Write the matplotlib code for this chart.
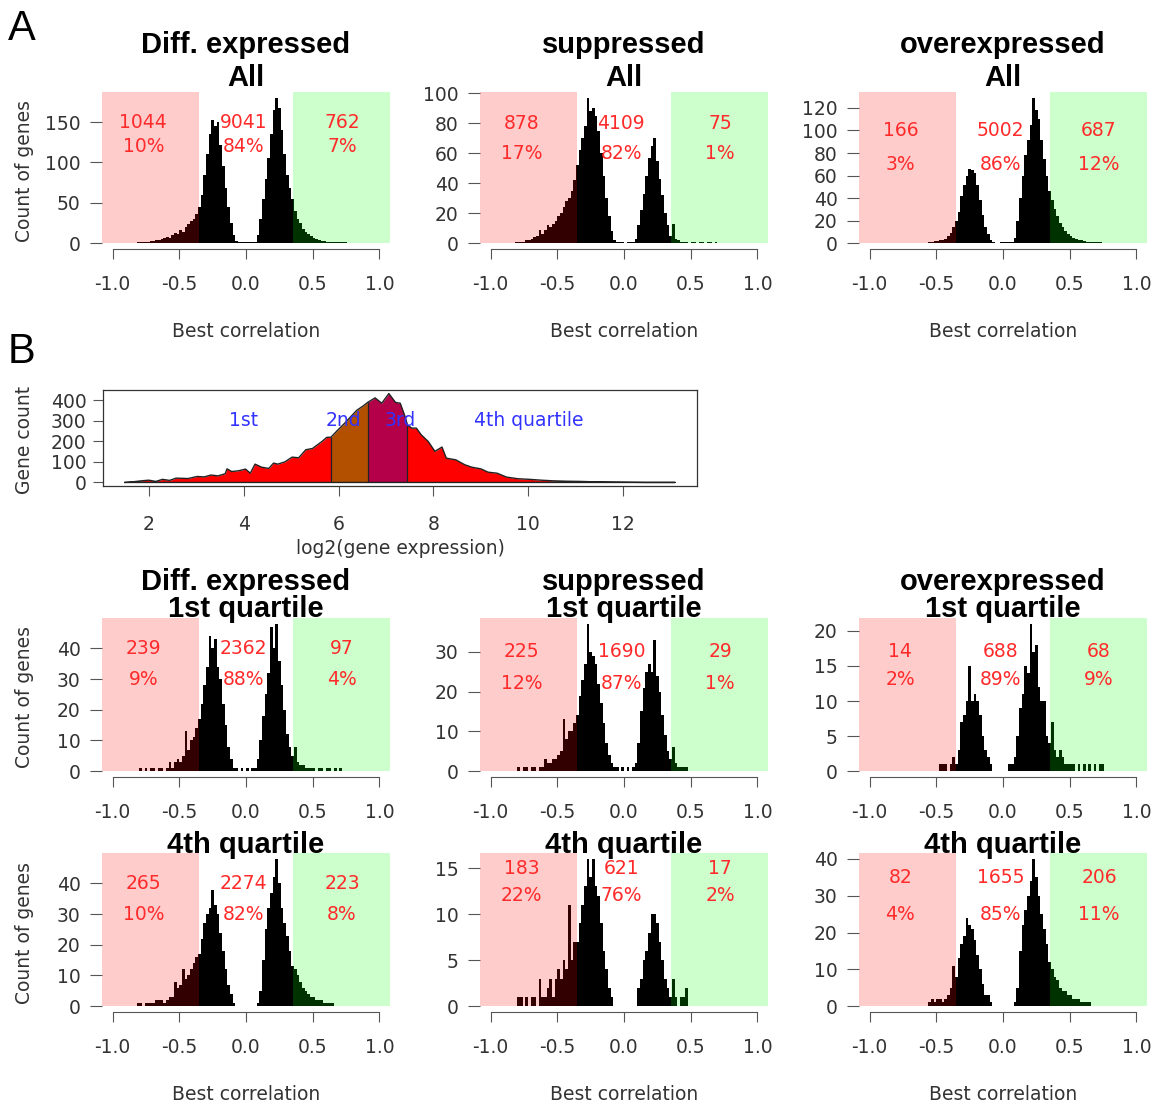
import numpy as np
import matplotlib
matplotlib.use('Agg')
import matplotlib.pyplot as plt
from matplotlib.patches import Rectangle

# ---------------- data ----------------
# histogram bins of best correlation, 0.02 wide, from -0.86 to 0.80
bin_edges = np.round(np.arange(-0.86, 0.801, 0.02), 2)
bin_centers = bin_edges[:-1] + 0.01

# counts per bin (row A: all genes)
all_diff = [0, 0, 1, 1, 2, 2, 2, 3, 3, 4,
            4, 5, 6, 8, 7, 10, 12, 11, 16, 14,
            20, 24, 27, 30, 36, 45, 60, 85, 110, 135,
            152, 145, 150, 122, 95, 68, 45, 25, 10, 3,
            1, 1, 1, 1, 1, 1, 2, 10, 30, 55,
            80, 105, 135, 165, 180, 168, 140, 110, 85, 68,
            55, 40, 30, 25, 18, 14, 11, 9, 7, 5,
            4, 3, 3, 2, 2, 2, 1, 1, 1, 1,
            1, 0, 0]
all_supp = [0, 0, 1, 1, 1, 1, 2, 2, 3, 4,
            5, 9, 6, 9, 12, 11, 13, 15, 18, 20,
            24, 28, 30, 35, 42, 52, 62, 70, 78, 97,
            88, 90, 85, 75, 60, 45, 30, 18, 8, 2,
            1, 1, 1, 0, 1, 1, 1, 3, 12, 22,
            33, 45, 57, 65, 70, 55, 43, 32, 20, 12,
            5, 13, 3, 2, 1, 1, 1, 0, 1, 1,
            0, 1, 1, 0, 1, 1, 0, 1, 0, 0,
            0, 0, 0]
all_over = [0, 0, 0, 0, 0, 0, 0, 0, 0, 0,
            0, 0, 0, 0, 0, 1, 1, 2, 2, 3,
            3, 4, 6, 9, 14, 20, 28, 42, 52, 60,
            66, 65, 62, 52, 38, 25, 14, 8, 3, 1,
            0, 0, 1, 1, 1, 1, 1, 5, 20, 40,
            60, 78, 92, 105, 129, 118, 110, 92, 75, 60,
            46, 38, 30, 24, 18, 14, 11, 8, 6, 5,
            4, 3, 3, 2, 1, 1, 1, 1, 1, 1,
            0, 0, 0]

# 1st quartile of expression
q1_diff = [0, 0, 0, 1, 0, 1, 0, 1, 1, 0,
           1, 1, 0, 1, 3, 1, 3, 4, 3, 5,
           13, 7, 10, 11, 14, 17, 22, 28, 34, 44,
           40, 43, 34, 30, 22, 15, 8, 4, 1, 1,
           0, 1, 0, 1, 0, 1, 1, 4, 10, 18,
           25, 32, 47, 40, 48, 36, 28, 20, 12, 8,
           5, 8, 3, 2, 2, 1, 1, 1, 1, 0,
           1, 1, 0, 1, 1, 0, 1, 0, 1, 0,
           0, 0, 0]
q1_supp = [0, 0, 0, 1, 0, 1, 1, 0, 1, 1,
           0, 1, 1, 3, 2, 2, 3, 3, 4, 5,
           13, 8, 10, 10, 12, 14, 19, 23, 27, 37,
           30, 29, 27, 22, 17, 12, 7, 4, 2, 1,
           1, 0, 1, 0, 1, 0, 1, 2, 7, 15,
           21, 25, 27, 25, 33, 24, 20, 14, 9, 5,
           3, 6, 2, 1, 1, 1, 1, 0, 0, 0,
           0, 0, 0, 0, 0, 0, 0, 0, 0, 0,
           0, 0, 0]
q1_over = [0, 0, 0, 0, 0, 0, 0, 0, 0, 0,
           0, 0, 0, 0, 0, 0, 0, 0, 0, 1,
           1, 1, 0, 1, 2, 1, 3, 7, 8, 10,
           15, 10, 11, 10, 8, 5, 3, 2, 1, 0,
           0, 0, 0, 0, 0, 1, 1, 2, 5, 9,
           11, 15, 14, 21, 17, 18, 12, 10, 10, 5,
           4, 7, 3, 2, 3, 2, 1, 1, 1, 1,
           0, 1, 0, 1, 0, 1, 0, 1, 0, 1,
           1, 0, 0]

# 4th quartile of expression
q4_diff = [0, 0, 1, 1, 0, 1, 1, 1, 1, 2,
           2, 2, 1, 2, 3, 3, 8, 6, 7, 12,
           9, 10, 12, 14, 16, 17, 22, 27, 30, 32,
           38, 33, 30, 24, 18, 12, 7, 4, 1, 0,
           0, 0, 0, 0, 0, 0, 0, 1, 5, 15,
           25, 32, 37, 42, 48, 40, 32, 27, 23, 18,
           13, 12, 10, 8, 6, 5, 4, 3, 3, 2,
           2, 2, 1, 1, 1, 1, 0, 0, 0, 0,
           0, 0, 0]
q4_supp = [0, 0, 0, 1, 1, 0, 1, 0, 1, 1,
           0, 3, 1, 1, 2, 3, 1, 3, 4, 3,
           5, 4, 11, 5, 7, 7, 9, 11, 13, 16,
           14, 16, 13, 12, 9, 6, 4, 2, 1, 0,
           0, 0, 0, 0, 0, 0, 0, 0, 2, 3,
           5, 6, 8, 10, 10, 9, 7, 5, 3, 2,
           1, 3, 1, 0, 1, 1, 2, 0, 0, 0,
           0, 0, 0, 0, 0, 0, 0, 0, 0, 0,
           0, 0, 0]
q4_over = [0, 0, 0, 0, 0, 0, 0, 0, 0, 0,
           0, 0, 0, 0, 0, 1, 2, 1, 2, 2,
           1, 2, 3, 5, 11, 8, 13, 17, 19, 24,
           22, 21, 18, 14, 10, 6, 3, 3, 1, 0,
           0, 0, 0, 0, 0, 0, 0, 1, 5, 15,
           22, 26, 30, 34, 40, 35, 30, 25, 21, 17,
           12, 10, 8, 7, 5, 4, 4, 3, 3, 2,
           2, 2, 1, 1, 1, 1, 0, 0, 0, 0,
           0, 0, 0]

# gene numbers / percentages in the (neg, middle, pos) regions
n_all = [[1044, 9041, 762], [878, 4109, 75], [166, 5002, 687]]
pct_all = [[10, 84, 7], [17, 82, 1], [3, 86, 12]]
n_q1 = [[239, 2362, 97], [225, 1690, 29], [14, 688, 68]]
pct_q1 = [[9, 88, 4], [12, 87, 1], [2, 89, 9]]
n_q4 = [[265, 2274, 223], [183, 621, 17], [82, 1655, 206]]
pct_q4 = [[10, 82, 8], [22, 76, 2], [4, 85, 11]]

# y (data units) where number / percent texts sit
y_all = [(150, 120), (80, 60), (100, 70)]
y_q1 = [(40, 30), (30, 22), (17, 13)]
y_q4 = [(40, 30), (15, 12), (35, 25)]
ystep_all = [50, 20, 20]
ystep_q1 = [10, 10, 5]
ystep_q4 = [10, 5, 10]

col_titles = ['Diff. expressed', 'suppressed', 'overexpressed']
threshold = 0.35

# panel B: expression distribution
expr_x = [1.50, 1.66, 1.85, 2.00, 2.15, 2.29, 2.44, 2.58, 2.83, 3.02,
          3.17, 3.31, 3.46, 3.61, 3.65, 3.75, 3.90, 4.04, 4.14, 4.24,
          4.38, 4.53, 4.63, 4.72, 4.87, 5.02, 5.16, 5.31, 5.45, 5.65,
          5.75, 5.84, 5.99, 6.13, 6.23, 6.38, 6.52, 6.62, 6.77, 6.91,
          7.06, 7.20, 7.30, 7.40, 7.45, 7.54, 7.64, 7.74, 7.89, 8.03,
          8.18, 8.27, 8.47, 8.66, 8.81, 9.00, 9.15, 9.34, 9.54, 9.78,
          10.03, 10.27, 10.51, 10.80, 11.10, 11.39, 11.68, 12.46, 13.09]
expr_y = [0, 3, 8, 11, 5, 15, 10, 21, 19, 29,
          27, 36, 32, 42, 66, 53, 57, 65, 45, 89,
          74, 68, 94, 89, 100, 123, 120, 159, 165, 199,
          219, 220, 256, 288, 313, 350, 372, 390, 411, 385,
          432, 389, 385, 321, 280, 264, 264, 232, 199, 151,
          172, 118, 110, 86, 74, 66, 50, 45, 26, 18,
          15, 11, 8, 6, 5, 3, 2, 0, 0]
quartile_breaks = [5.85, 6.63, 7.45]
quartile_colors = ['#FF0000', '#B35000', '#B30048', '#FF0000']
quartile_names = ['1st', '2nd', '3rd', '4th quartile']
quartile_label_x = [4.0, 6.1, 7.3, 10.0]

# ---------------- figure ----------------
W, H = 1154, 1104
fig = plt.figure(figsize=(W / 100, H / 100), dpi=100)
GREY = '#333333'


def px_axes(left, top, right, bottom):
    return fig.add_axes([left / W, 1 - bottom / H, (right - left) / W, (bottom - top) / H])


def ftext(x, y, s, **kw):
    fig.text(x / W, 1 - y / H, s, **kw)


col_left = [102, 480, 859]
col_w = 288
rows = [(92, 249), (618, 777), (853, 1012)]
row_data = [
    ([all_diff, all_supp, all_over], n_all, pct_all, y_all, ystep_all),
    ([q1_diff, q1_supp, q1_over], n_q1, pct_q1, y_q1, ystep_q1),
    ([q4_diff, q4_supp, q4_over], n_q4, pct_q4, y_q4, ystep_q4),
]
text_x = [-0.77, -0.02, 0.72]

for r, (top_px, bot_px) in enumerate(rows):
    hists, nums, pcts, ys, steps = row_data[r]
    for c in range(3):
        ax = px_axes(col_left[c], top_px, col_left[c] + col_w, bot_px)
        counts = np.array(hists[c])
        m = counts.max()
        ytop = m * 1.04
        ax.bar(bin_centers, counts, width=0.02, color='black', linewidth=0)
        ax.add_patch(Rectangle((-1.08, 0), 1.08 - threshold, ytop, color='red', alpha=0.2, lw=0))
        ax.add_patch(Rectangle((threshold, 0), 1.08 - threshold, ytop, color='lime', alpha=0.2, lw=0))
        ax.set_xlim(-1.08, 1.08)
        ax.set_ylim(-0.04 * m, ytop)
        for k in range(3):
            ax.text(text_x[k], ys[c][0], str(nums[c][k]), color='#FF2A2A',
                    ha='center', va='center', fontsize=13.5)
            ax.text(text_x[k], ys[c][1], '%d%%' % pcts[c][k], color='#FF2A2A',
                    ha='center', va='center', fontsize=13.5)
        for s in ['top', 'right', 'left']:
            ax.spines[s].set_visible(False)
        ax.spines['bottom'].set_bounds(-1, 1)
        ax.spines['bottom'].set_color('#555555')
        ax.spines['bottom'].set_linewidth(0.8)
        ax.set_xticks([-1, -0.5, 0, 0.5, 1])
        ax.set_xticklabels(['-1.0', '-0.5', '0.0', '0.5', '1.0'])
        ax.set_yticks(np.arange(0, ytop, steps[c]))
        ax.tick_params(axis='x', length=7, width=0.8, color='#555555', pad=12,
                       labelsize=13.5, labelcolor=GREY)
        ax.tick_params(axis='y', length=8.5, width=0.8, color='#555555', pad=7,
                       labelsize=13.5, labelcolor=GREY)

        xc = col_left[c] + col_w / 2
        if r == 0:
            ftext(xc, 53, col_titles[c], ha='center', va='baseline', fontsize=21,
                  fontweight='bold', family='Liberation Sans')
            ftext(xc, 86, 'All', ha='center', va='baseline', fontsize=21,
                  fontweight='bold', family='Liberation Sans')
        elif r == 1:
            ftext(xc, 590, col_titles[c], ha='center', va='baseline', fontsize=21,
                  fontweight='bold', family='Liberation Sans')
            ftext(xc, 617, '1st quartile', ha='center', va='baseline', fontsize=21,
                  fontweight='bold', family='Liberation Sans')
        else:
            ftext(xc, 853, '4th quartile', ha='center', va='baseline', fontsize=21,
                  fontweight='bold', family='Liberation Sans')
        if r != 1:
            ftext(xc, bot_px + 82, 'Best correlation', ha='center', va='center',
                  fontsize=13.5, color=GREY)
        if c == 0:
            ftext(25, (top_px + bot_px) / 2, 'Count of genes', ha='center', va='center',
                  rotation=90, fontsize=13.5, color=GREY)

# ---- panel B ----
axb = px_axes(103, 390, 697, 486)
bx = np.array(expr_x)
by = np.array(expr_y)
bounds = [bx.min()] + quartile_breaks + [bx.max()]
for q in range(4):
    lo, hi = bounds[q], bounds[q + 1]
    inner = (bx > lo) & (bx < hi)
    xs = np.r_[lo, bx[inner], hi]
    ys_ = np.interp(xs, bx, by)
    axb.fill_between(xs, 0, ys_, color=quartile_colors[q], linewidth=0)
axb.plot(np.r_[bx, bx[0]], np.r_[by, by[0]], color='#222222', lw=1)
axb.vlines(quartile_breaks, 0, np.interp(quartile_breaks, bx, by), color='#222222', lw=0.9)
for name, qx in zip(quartile_names, quartile_label_x):
    axb.text(qx, 300, name, color='#3333FF', ha='center', va='center', fontsize=13.5)
xr = bx.max() - bx.min()
axb.set_xlim(bx.min() - 0.04 * xr, bx.max() + 0.04 * xr)
axb.set_ylim(-0.04 * by.max(), 1.04 * by.max())
axb.set_xticks([2, 4, 6, 8, 10, 12])
axb.set_yticks([0, 100, 200, 300, 400])
for s in axb.spines.values():
    s.set_color('#333333')
    s.set_linewidth(0.9)
axb.tick_params(axis='x', length=7, width=0.8, color='#555555', pad=14,
                labelsize=13.5, labelcolor=GREY)
axb.tick_params(axis='y', length=7, width=0.8, color='#555555', pad=5,
                labelsize=13.5, labelcolor=GREY)
ftext(400, 548, 'log2(gene expression)', ha='center', va='center', fontsize=13.5, color=GREY)
ftext(25, 440, 'Gene count', ha='center', va='center', rotation=90, fontsize=13.5, color=GREY)

# panel letters
ftext(8, 40, 'A', fontsize=30, va='baseline', family='Liberation Sans')
ftext(8, 363, 'B', fontsize=30, va='baseline', family='Liberation Sans')

fig.savefig('out.png', dpi=100)
